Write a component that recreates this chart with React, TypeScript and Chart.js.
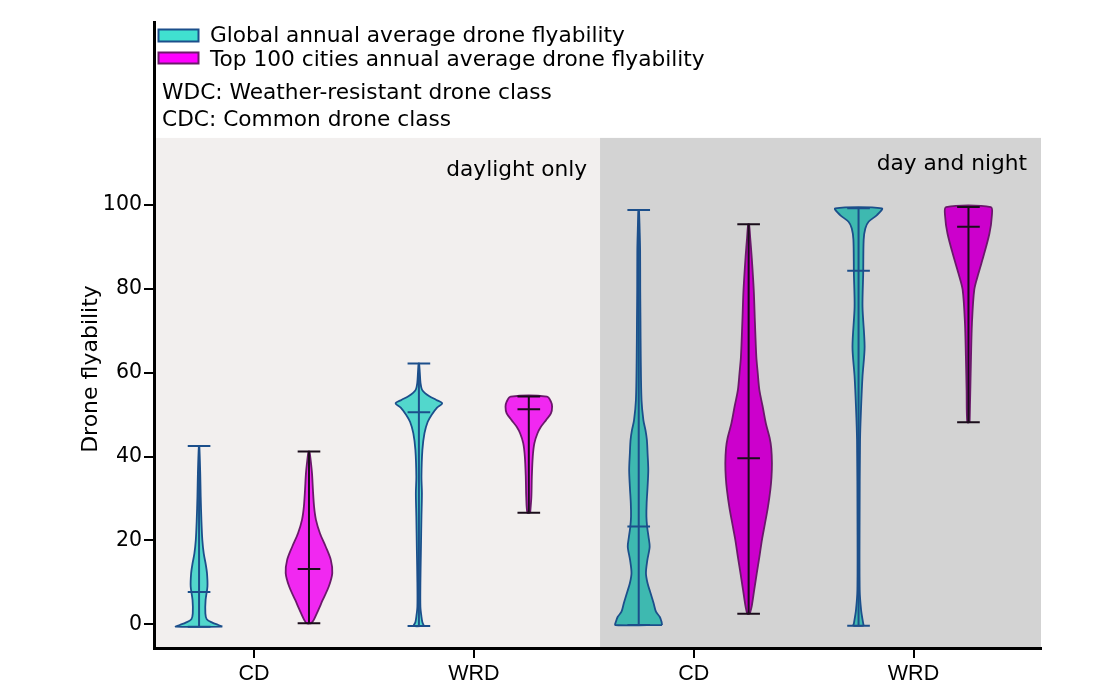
import React, { useEffect, useRef } from "react";
import { Chart, registerables } from "chart.js";

Chart.register(...registerables);

// ---------- data ----------
const groupLabels = ["CD", "WRD", "CD", "WRD"];
const groupPositions = [1, 2, 3, 4];
const yTickValues = [0, 20, 40, 60, 80, 100];
const yAxisTitle = "Drone flyability";
const seriesNames = [
  "Global annual average drone flyability",
  "Top 100 cities annual average drone flyability",
];
const noteLines = ["WDC: Weather-resistant drone class", "CDC: Common drone class"];
const panelLabels = ["daylight only", "day and night"];

const violinPositions = [0.75, 1.25, 1.75, 2.25, 2.75, 3.25, 3.75, 4.25];
const violinSeries = [0, 1, 0, 1, 0, 1, 0, 1];
const violinPanel = [0, 0, 0, 0, 1, 1, 1, 1];
const violinMin = [-0.57, 0.24, -0.4, 26.6, -0.17, 2.5, -0.33, 48.2];
const violinMax = [42.5, 41.2, 62.2, 54.3, 98.8, 95.4, 99.2, 99.5];
const violinMedian = [7.7, 13.2, 50.6, 51.3, 23.3, 39.6, 84.3, 94.8];

// density profiles (relative width, 1 = widest) at flyability levels
const v1Levels = [-0.57, -0.17, 0.4, 1.2, 2.6, 5.8, 9.0, 12.2, 14.5, 16.9, 20.1, 24.9, 30.4, 36, 42.4];
const v1Density = [1.0, 0.83, 0.57, 0.33, 0.27, 0.28, 0.36, 0.34, 0.28, 0.2, 0.14, 0.1, 0.07, 0.05, 0.01];
const v2Levels = [0.24, 1.0, 3.4, 5.8, 9.0, 12.2, 15.3, 18.5, 21.7, 24.9, 28.0, 32.0, 36.0, 39.2, 41.2];
const v2Density = [0.1, 0.2, 0.4, 0.59, 0.85, 1.0, 0.94, 0.72, 0.47, 0.3, 0.22, 0.17, 0.13, 0.07, 0.02];
const v3Levels = [-0.4, 0.5, 1.8, 4.2, 10, 17.7, 25.7, 31.2, 35.2, 41.6, 45.6, 48.3, 50.0, 51.7, 52.7, 53.5, 54.4, 55.2, 56.0, 57.5, 60, 62.2];
const v3Density = [0.22, 0.15, 0.11, 0.065, 0.065, 0.087, 0.11, 0.13, 0.11, 0.15, 0.24, 0.38, 0.55, 0.78, 1.0, 0.75, 0.45, 0.25, 0.13, 0.07, 0.04, 0.01];
const v4Levels = [26.6, 30.4, 35.2, 40.0, 43.2, 45.5, 47.1, 48.7, 50.3, 51.9, 53.1, 54.3];
const v4Density = [0.06, 0.11, 0.13, 0.17, 0.24, 0.37, 0.52, 0.74, 0.95, 1.0, 0.95, 0.78];
const v5Levels = [-0.17, 0.6, 1.8, 3.0, 5.0, 7.4, 9.8, 12.2, 15.3, 18.5, 20.9, 23.3, 25.7, 28.9, 32.8, 36.8, 40.8, 44.0, 46.3, 48.7, 53.5, 63.8, 72.6, 79.7, 89.3, 94.1, 97.7, 98.8];
const v5Density = [1.0, 0.98, 0.9, 0.74, 0.64, 0.51, 0.38, 0.31, 0.37, 0.47, 0.42, 0.36, 0.33, 0.34, 0.38, 0.41, 0.38, 0.35, 0.29, 0.2, 0.12, 0.087, 0.075, 0.065, 0.06, 0.04, 0.02, 0.005];
const v6Levels = [2.5, 4.2, 8.2, 12.2, 16, 20.1, 24, 28.0, 32, 35, 38.4, 42, 44.5, 47.9, 52, 55.9, 60, 63.8, 72, 79.7, 87.7, 92, 95.4];
const v6Density = [0.05, 0.13, 0.24, 0.35, 0.46, 0.57, 0.7, 0.83, 0.93, 0.98, 1.0, 0.97, 0.9, 0.74, 0.6, 0.46, 0.39, 0.33, 0.27, 0.22, 0.13, 0.07, 0.02];
const v7Levels = [-0.33, 0.2, 3.4, 8.2, 24.1, 44, 51.9, 59.1, 66.2, 75.7, 83.7, 91.7, 94.4, 96, 97.6, 99.2];
const v7Density = [0.22, 0.2, 0.11, 0.05, 0.045, 0.065, 0.11, 0.17, 0.26, 0.17, 0.2, 0.22, 0.29, 0.43, 0.79, 1.0];
const v8Levels = [48.2, 55.9, 63.8, 71.8, 79.8, 83.7, 87.7, 93.2, 97.2, 99.5];
const v8Density = [0.05, 0.08, 0.11, 0.15, 0.25, 0.43, 0.64, 0.9, 1.0, 0.96];

const violinLevels = [v1Levels, v2Levels, v3Levels, v4Levels, v5Levels, v6Levels, v7Levels, v8Levels];
const violinDensity = [v1Density, v2Density, v3Density, v4Density, v5Density, v6Density, v7Density, v8Density];

// ---------- styles / layout ----------
const FONT = '"DejaVu Sans", Verdana, sans-serif';
const FONT_X = '"Liberation Sans", Arial, sans-serif';
const FILL = [
  ["#52d7cc", "#f128f1"],
  ["#3eb9b0", "#cc00cc"],
];
const LEGEND_FILL = ["#40e0d0", "#ff00ff"];
const EDGE = ["#1c4f8b", "#6a1a6a"];
const WHISKER = ["#1c4f8b", "#1a0d1a"];
const PANEL_BG = ["#f2efee", "#d3d3d3"];
const X_MIN = 0.545;
const X_MAX = 4.58;
const PANEL_SPLIT = 2.574;
const PANEL_TOP = 116;
const Y_MIN = -5.65;
const Y_MAX = 143.64;
const HALF_W = 0.106;
const BAR_W = 0.0515;

const decorPlugin = {
  id: "decor",
  beforeDraw(chart: any) {
    const { ctx, chartArea, scales } = chart;
    const x = scales.x;
    const y = scales.y;
    const edges = [X_MIN, PANEL_SPLIT, X_MAX];
    ctx.save();
    for (let i = 0; i < 2; i++) {
      const l = x.getPixelForValue(edges[i]);
      const r = x.getPixelForValue(edges[i + 1]);
      const t = y.getPixelForValue(PANEL_TOP);
      ctx.fillStyle = PANEL_BG[i];
      ctx.fillRect(l, t, r - l, chartArea.bottom - t);
    }
    ctx.restore();
  },
  afterDraw(chart: any) {
    const { ctx, chartArea, scales } = chart;
    const x = scales.x;
    const y = scales.y;
    ctx.save();
    ctx.fillStyle = "#000";
    ctx.font = `21.7px ${FONT}`;
    ctx.textBaseline = "alphabetic";
    // panel labels
    ctx.textAlign = "right";
    const split = x.getPixelForValue(PANEL_SPLIT);
    const right = x.getPixelForValue(X_MAX);
    const top = y.getPixelForValue(PANEL_TOP);
    ctx.fillText(panelLabels[0], split - 13, top + 38);
    ctx.fillText(panelLabels[1], right - 14, top + 32.5);
    // legend
    ctx.textAlign = "left";
    const lx = chartArea.left;
    const patchY = [29.5, 52.5];
    const patchH = [12, 11];
    const textY = [41.7, 66];
    for (let i = 0; i < 2; i++) {
      ctx.fillStyle = LEGEND_FILL[i];
      ctx.fillRect(lx + 4.5, patchY[i], 40, patchH[i]);
      ctx.strokeStyle = EDGE[i];
      ctx.lineWidth = 2;
      ctx.strokeRect(lx + 4.5, patchY[i], 40, patchH[i]);
      ctx.fillStyle = "#000";
      ctx.fillText(seriesNames[i], lx + 56, textY[i]);
    }
    ctx.fillText(noteLines[0], lx + 8, 99.3);
    ctx.fillText(noteLines[1], lx + 8, 126);
    // y axis title
    ctx.translate(91.5, 369);
    ctx.rotate(-Math.PI / 2);
    ctx.textAlign = "center";
    ctx.textBaseline = "middle";
    ctx.font = `22px ${FONT}`;
    ctx.fillText(yAxisTitle, 0, 0);
    ctx.restore();
  },
};

export default function App() {
  const ref = useRef<HTMLCanvasElement>(null);

  useEffect(() => {
    const canvas = ref.current;
    if (!canvas) return;
    const datasets: any[] = [];
    violinPositions.forEach((pos, i) => {
      const s = violinSeries[i];
      const p = violinPanel[i];
      const lv = violinLevels[i];
      const dn = violinDensity[i];
      const rightSide = lv.map((yv, k) => ({ x: pos + dn[k] * HALF_W, y: yv }));
      const leftSide = lv.map((yv, k) => ({ x: pos - dn[k] * HALF_W, y: yv })).reverse();
      const outline = [...rightSide, ...leftSide, rightSide[0]];
      datasets.push({
        type: "line",
        label: seriesNames[s],
        data: outline,
        fill: "shape",
        backgroundColor: FILL[p][s],
        borderColor: EDGE[s],
        borderWidth: 1.8,
        pointRadius: 0,
        pointHoverRadius: 0,
        tension: 0.3,
        order: 1,
      });
      const mn = violinMin[i];
      const mx = violinMax[i];
      const md = violinMedian[i];
      const whisk = [
        { x: pos - BAR_W, y: mn },
        { x: pos + BAR_W, y: mn },
        { x: pos, y: null },
        { x: pos, y: mn },
        { x: pos, y: mx },
        { x: pos, y: null },
        { x: pos - BAR_W, y: mx },
        { x: pos + BAR_W, y: mx },
        { x: pos, y: null },
        { x: pos - BAR_W, y: md },
        { x: pos + BAR_W, y: md },
      ];
      datasets.push({
        type: "line",
        label: seriesNames[s] + " range",
        data: whisk,
        fill: false,
        borderColor: WHISKER[s],
        borderWidth: 2,
        pointRadius: 0,
        pointHoverRadius: 0,
        tension: 0,
        spanGaps: false,
        order: 0,
      });
    });

    const chart = new Chart(canvas, {
      type: "line",
      data: { datasets },
      plugins: [decorPlugin],
      options: {
        responsive: false,
        maintainAspectRatio: false,
        animation: false,
        events: [],
        layout: { padding: { left: 0, right: 71, top: 22, bottom: 0 } },
        plugins: {
          legend: { display: false },
          tooltip: { enabled: false },
        },
        scales: {
          x: {
            type: "linear",
            min: X_MIN,
            max: X_MAX,
            afterBuildTicks: (s: any) => {
              s.ticks = groupPositions.map((v) => ({ value: v }));
            },
            afterFit: (s: any) => {
              s.height = 51;
            },
            ticks: {
              autoSkip: false,
              maxRotation: 0,
              padding: 3,
              color: "#000",
              font: { family: FONT_X, size: 21.5 },
              callback: (_v: any, idx: number) => groupLabels[idx],
            },
            grid: {
              display: true,
              drawOnChartArea: false,
              drawTicks: true,
              tickLength: 10,
              color: "#000",
              lineWidth: 2,
            },
            border: { display: true, color: "#000", width: 3 },
          },
          y: {
            type: "linear",
            min: Y_MIN,
            max: Y_MAX,
            afterBuildTicks: (s: any) => {
              s.ticks = yTickValues.map((v) => ({ value: v }));
            },
            afterFit: (s: any) => {
              s.width = 154;
            },
            ticks: {
              padding: 2,
              color: "#000",
              font: { family: FONT, size: 20.5 },
            },
            grid: {
              display: true,
              drawOnChartArea: false,
              drawTicks: true,
              tickLength: 10,
              color: "#000",
              lineWidth: 2,
            },
            border: { display: true, color: "#000", width: 3 },
          },
        },
      } as any,
    });
    return () => chart.destroy();
  }, []);

  return (
    <div style={{ position: "fixed", left: 0, top: 0, width: 1112, height: 699, background: "#fff" }}>
      <canvas ref={ref} width={1112} height={699} style={{ width: 1112, height: 699, display: "block" }} />
    </div>
  );
}
